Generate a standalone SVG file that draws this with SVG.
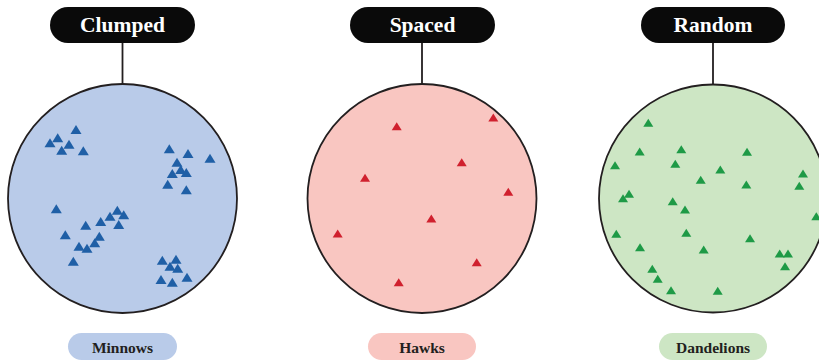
<svg xmlns="http://www.w3.org/2000/svg" xmlns:xlink="http://www.w3.org/1999/xlink" width="819" height="361" viewBox="0 0 819 361">
<style>
.ring{stroke:#231f20;stroke-width:1.8}
.tag{fill:#0a0a0a}
.tagtxt{font-family:"Liberation Serif",serif;font-weight:bold;font-size:21.5px;fill:#ffffff;text-anchor:middle}
.lbl{font-family:"Liberation Serif",serif;font-weight:bold;font-size:15.5px;fill:#231f20;text-anchor:middle}
.conn{stroke:#231f20;stroke-width:1.8;fill:none}
.b{fill:#1f5fa6}
.r{fill:#d0202e}
.g{fill:#1e9a46}
</style>
<defs>
<polygon id="t" points="0,-5 5.5,4 -5.5,4" stroke-linejoin="round"/>
<polygon id="ts" points="0,-4.5 5,3.5 -5,3.5"/>
</defs>
<rect width="819" height="361" fill="#ffffff"/>
<g id="connectors">
<line class="conn" x1="122.5" y1="42" x2="122.5" y2="84"/>
<line class="conn" x1="422" y1="42" x2="422" y2="84"/>
<line class="conn" x1="713" y1="42" x2="713" y2="84"/>
</g>
<g id="clumped">
<rect class="tag" x="50" y="7" width="145" height="36" rx="18"/>
<text class="tagtxt" x="122.5" y="32">Clumped</text>
<circle class="ring" cx="122.5" cy="198.5" r="114.5" fill="#b9cbe9"/>
<g class="b">
<use xlink:href="#t" x="76" y="130"/><use xlink:href="#t" x="57.7" y="138.3"/><use xlink:href="#t" x="50" y="143.3"/><use xlink:href="#t" x="69" y="144.7"/><use xlink:href="#t" x="61.7" y="150.7"/><use xlink:href="#t" x="83.3" y="151.3"/>
<use xlink:href="#t" x="169.3" y="149.3"/><use xlink:href="#t" x="188" y="154"/><use xlink:href="#t" x="210" y="158.7"/><use xlink:href="#t" x="177" y="162.7"/><use xlink:href="#t" x="180.7" y="170"/><use xlink:href="#t" x="186.3" y="173"/><use xlink:href="#t" x="172.3" y="174"/><use xlink:href="#t" x="167.7" y="184.7"/><use xlink:href="#t" x="186.3" y="190.3"/>
<use xlink:href="#t" x="56.3" y="209.3"/><use xlink:href="#t" x="117.3" y="210.7"/><use xlink:href="#t" x="110" y="216.7"/><use xlink:href="#t" x="123.7" y="215.3"/><use xlink:href="#t" x="100.7" y="222"/><use xlink:href="#t" x="85.7" y="225.7"/><use xlink:href="#t" x="118.7" y="225"/><use xlink:href="#t" x="65.3" y="235.3"/><use xlink:href="#t" x="99.3" y="236.7"/><use xlink:href="#t" x="94.7" y="243.3"/><use xlink:href="#t" x="79" y="246.7"/><use xlink:href="#t" x="87" y="248.7"/><use xlink:href="#t" x="73.3" y="261.7"/>
<use xlink:href="#t" x="162.3" y="260.7"/><use xlink:href="#t" x="176" y="259.7"/><use xlink:href="#t" x="170" y="266.7"/><use xlink:href="#t" x="177.7" y="268.7"/><use xlink:href="#t" x="187" y="277.7"/><use xlink:href="#t" x="161" y="280"/><use xlink:href="#t" x="172.3" y="282.7"/>
</g>
<rect x="68" y="333" width="109" height="27" rx="13.5" fill="#b9cbe9"/>
<text class="lbl" x="122.5" y="352.5">Minnows</text>
</g>
<g id="spaced">
<rect class="tag" x="350" y="7" width="145" height="36" rx="18"/>
<text class="tagtxt" x="422.5" y="32">Spaced</text>
<circle class="ring" cx="422" cy="198.5" r="114.5" fill="#f9c6c1"/>
<g class="r">
<use xlink:href="#ts" x="396.7" y="126.7"/><use xlink:href="#ts" x="493.3" y="118"/><use xlink:href="#ts" x="461.7" y="162.7"/><use xlink:href="#ts" x="365" y="178.3"/><use xlink:href="#ts" x="508.3" y="192.3"/><use xlink:href="#ts" x="431.3" y="219"/><use xlink:href="#ts" x="337.7" y="234"/><use xlink:href="#ts" x="476.7" y="262.7"/><use xlink:href="#ts" x="398.7" y="282.7"/>
</g>
<rect x="368" y="333" width="108" height="27" rx="13.5" fill="#f9c6c1"/>
<text class="lbl" x="422" y="352.5">Hawks</text>
</g>
<g id="random">
<rect class="tag" x="641" y="7" width="144" height="36" rx="18"/>
<text class="tagtxt" x="713" y="32">Random</text>
<circle class="ring" cx="713" cy="198.5" r="114" fill="#cde6c4"/>
<g class="g">
<use xlink:href="#ts" x="648.3" y="123.3"/><use xlink:href="#ts" x="639.7" y="152"/><use xlink:href="#ts" x="681.3" y="149.7"/><use xlink:href="#ts" x="747" y="152.3"/><use xlink:href="#ts" x="675.3" y="164.3"/><use xlink:href="#ts" x="615" y="165.7"/><use xlink:href="#ts" x="720.3" y="170"/><use xlink:href="#ts" x="700.7" y="180.3"/><use xlink:href="#ts" x="746.3" y="185"/><use xlink:href="#ts" x="803" y="174"/><use xlink:href="#ts" x="799.3" y="186.3"/><use xlink:href="#ts" x="629" y="194.3"/><use xlink:href="#ts" x="623" y="198.7"/><use xlink:href="#ts" x="672.7" y="201.7"/><use xlink:href="#ts" x="685" y="210"/><use xlink:href="#ts" x="816.3" y="216.7"/><use xlink:href="#ts" x="616.3" y="234.3"/><use xlink:href="#ts" x="686.3" y="233.3"/><use xlink:href="#ts" x="750" y="238.7"/><use xlink:href="#ts" x="640" y="247.7"/><use xlink:href="#ts" x="703.7" y="250"/><use xlink:href="#ts" x="779.7" y="254"/><use xlink:href="#ts" x="788" y="254"/><use xlink:href="#ts" x="785" y="266.7"/><use xlink:href="#ts" x="652.3" y="269.3"/><use xlink:href="#ts" x="657.7" y="279.3"/><use xlink:href="#ts" x="671" y="290.7"/><use xlink:href="#ts" x="717.7" y="291.3"/>
</g>
<rect x="659" y="333" width="108" height="27" rx="13.5" fill="#cde6c4"/>
<text class="lbl" x="713" y="352.5">Dandelions</text>
</g>
</svg>
